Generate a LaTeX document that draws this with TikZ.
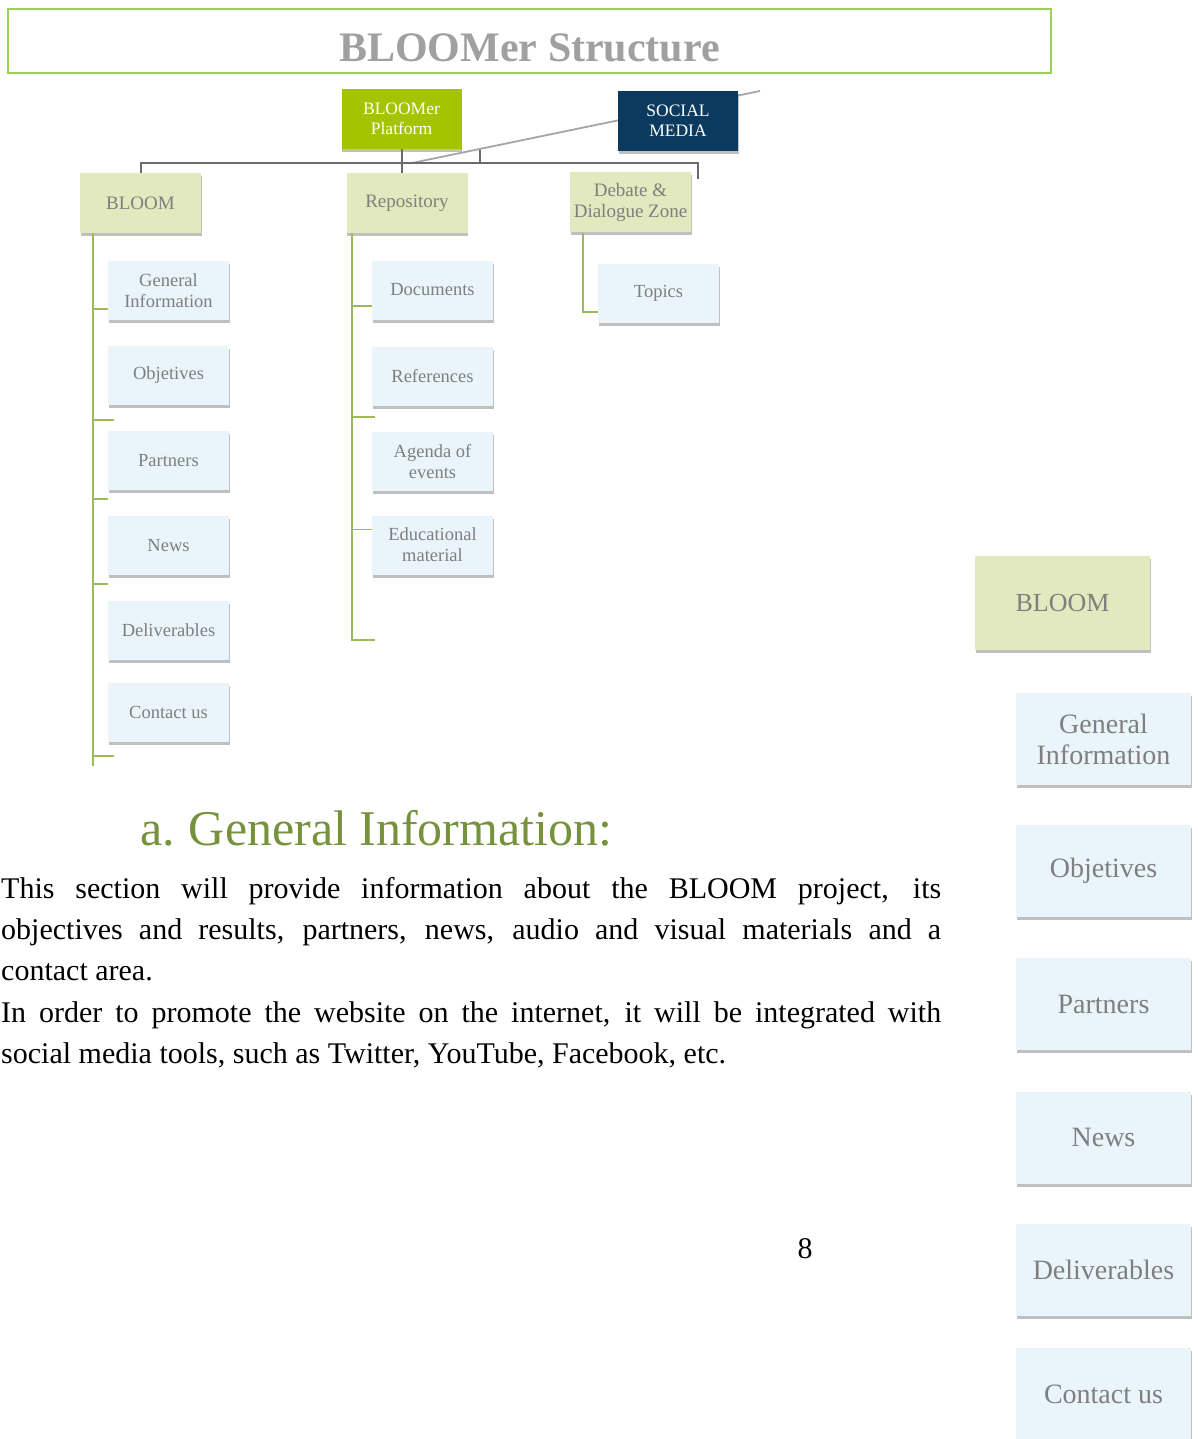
\documentclass[tikz,border=0pt]{standalone}
\usepackage{fontspec}
\setmainfont{Liberation Serif}
\usetikzlibrary{shadows,backgrounds}
\definecolor{titlegreen}{HTML}{9BD15A}
\definecolor{titlegray}{HTML}{A0A0A0}
\definecolor{platgreen}{HTML}{A5C400}
\definecolor{navyblue}{HTML}{0B3A5E}
\definecolor{olivebg}{HTML}{E2E9BE}
\definecolor{bluebg}{HTML}{EAF4FB}
\definecolor{boxgray}{HTML}{7F7F7F}
\definecolor{treegreen}{HTML}{9BBB59}
\definecolor{conngray}{HTML}{6B6B6B}
\definecolor{headgreen}{HTML}{76923C}
\tikzset{
  sbox/.style={rectangle, inner sep=1pt, align=center,
    drop shadow={shadow xshift=0.5pt, shadow yshift=-3pt, opacity=0.45, fill=black!55}},
  topbox/.style={sbox, text=white, minimum width=120pt, minimum height=60pt, font=\fontsize{17.5}{20}\selectfont},
  lvlone/.style={sbox, fill=olivebg, text=boxgray, minimum width=121pt, minimum height=60pt, font=\fontsize{19}{21}\selectfont},
  lvltwo/.style={sbox, fill=bluebg, text=boxgray, minimum width=121pt, minimum height=59pt, font=\fontsize{18.5}{21}\selectfont},
  bigone/.style={sbox, fill=olivebg, text=boxgray, minimum width=175pt, minimum height=94pt, font=\fontsize{26}{31}\selectfont},
  bigtwo/.style={sbox, fill=bluebg, text=boxgray, minimum width=175pt, minimum height=92pt, font=\fontsize{28}{31}\selectfont},
  conn/.style={draw=conngray, line width=2pt},
  diag/.style={draw=gray!70, line width=1.8pt},
  tree/.style={draw=treegreen, line width=1.6pt},
  bodyline/.style={anchor=base west, inner sep=0pt, font=\fontsize{30}{41}\selectfont},
}
\begin{document}
\begin{tikzpicture}[x=1pt,y=-1pt]
\useasboundingbox (0,0) rectangle (1197,1439);
\clip (0,0) rectangle (1197,1439);

% title
\node[draw=titlegreen, line width=1.8pt, minimum width=1043pt, minimum height=64pt, inner sep=0pt] (titlebox) at (529.5,41) {};
\node[text=titlegray, font=\bfseries\fontsize{42}{46}\selectfont, anchor=base, inner sep=0pt] (titletext) at (529.5,62) {BLOOMer Structure};

% top boxes
\node[topbox, fill=platgreen] (plat) at (401.5,119) {BLOOMer\\Platform};
\node[topbox, fill=navyblue] (social) at (678,121) {SOCIAL\\MEDIA};

% level one
\node[lvlone] (bloom) at (140.5,203) {BLOOM};
\node[lvlone] (repo) at (407,203) {Repository};
\node[lvlone] (debate) at (630.5,202.5) {Debate \&\\Dialogue Zone};

% BLOOM children
\node[lvltwo] (gi) at (168.5,290.5) {General\\Information};
\node[lvltwo] (obj) at (168.5,375.5) {Objetives};
\node[lvltwo] (part) at (168.5,460.5) {Partners};
\node[lvltwo] (news) at (168.5,545.5) {News};
\node[lvltwo] (deliv) at (168.5,630.5) {Deliverables};
\node[lvltwo] (cont) at (168.5,712) {Contact us};

% Repository children
\node[lvltwo] (docs) at (432.5,290) {Documents};
\node[lvltwo] (refs) at (432.5,376) {References};
\node[lvltwo] (agenda) at (432.5,461.5) {Agenda of\\events};
\node[lvltwo] (edu) at (432.5,545) {Educational\\material};

% Debate child
\node[lvltwo] (topics) at (658.5,293.5) {Topics};

% right column
\node[bigone] (rbloom) at (1062.5,603) {BLOOM};
\node[bigtwo] (rgi) at (1103.5,739) {General\\Information};
\node[bigtwo] (robj) at (1103.5,871) {Objetives};
\node[bigtwo] (rpart) at (1103.5,1004) {Partners};
\node[bigtwo] (rnews) at (1103.5,1137.5) {News};
\node[bigtwo] (rdeliv) at (1103.5,1269.5) {Deliverables};
\node[bigtwo] (rcont) at (1103.5,1394) {Contact us};

% gray connectors
\coordinate (barL) at (140.5,163);
\coordinate (barRt) at (698,163);
\coordinate (barR) at (698,179);
\coordinate (stick) at (480,150);
\coordinate (diagS) at (412,163);
\coordinate (diagE) at (760,91);
\begin{pgfonlayer}{background}
\draw[diag] (diagS) -- (diagE);
\end{pgfonlayer}
\draw[conn] (bloom.north) -- (barL) -- (barRt) -- (barR);
\draw[conn] (plat.south) -- (plat.south |- repo.north);
\draw[conn] (stick) -- (stick |- barL);

% green tree lines
\coordinate (bEnd) at (93,766);
\draw[tree] (bloom.south -| bEnd) -- (bEnd);
\draw[tree] ([yshift=11pt]gi.south west) -- ++(-15,0);
\draw[tree] ([shift={(6,15)}]obj.south west) -- ++(-21,0);
\draw[tree] ([yshift=17pt]news.north west) -- ++(-15,0);
\draw[tree] ([yshift=17pt]deliv.north west) -- ++(-15,0);
\draw[tree] ([shift={(6,14)}]cont.south west) -- ++(-21,0);

\coordinate (rEnd) at (352,640);
\draw[tree] (repo.south -| rEnd) -- (rEnd) -- ++(23,0);
\draw[tree] ([yshift=14pt]docs.south west) -- ++(-20,0);
\draw[tree] ([shift={(3,11)}]refs.south west) -- ++(-23,0);
\draw[tree] ([yshift=-14pt]edu.north west) -- ++(-20,0);

\coordinate (dEnd) at (583,312);
\draw[tree] (debate.south -| dEnd) -- (dEnd) -- (dEnd -| topics.west);

% heading and body text
\node[anchor=base west, inner sep=0pt, text=headgreen, font=\fontsize{50}{56}\selectfont] (head) at (140,845) {a.\hspace{14pt}General Information:};
\node[bodyline] (l1) at (1,898) {\makebox[940pt][s]{This section will provide information about the BLOOM project, its}};
\node[bodyline] (l2) at (1,939) {\makebox[940pt][s]{objectives and results, partners, news, audio and visual materials and a}};
\node[bodyline] (l3) at (1,980) {contact area.};
\node[bodyline] (l4) at (1,1022) {\makebox[940pt][s]{In order to promote the website on the internet, it will be integrated with}};
\node[bodyline] (l5) at (1,1063) {social media tools, such as Twitter, YouTube, Facebook, etc.};
\node[anchor=base, inner sep=0pt, font=\fontsize{30}{36}\selectfont] (pnum) at (805,1258) {8};
\end{tikzpicture}
\end{document}
